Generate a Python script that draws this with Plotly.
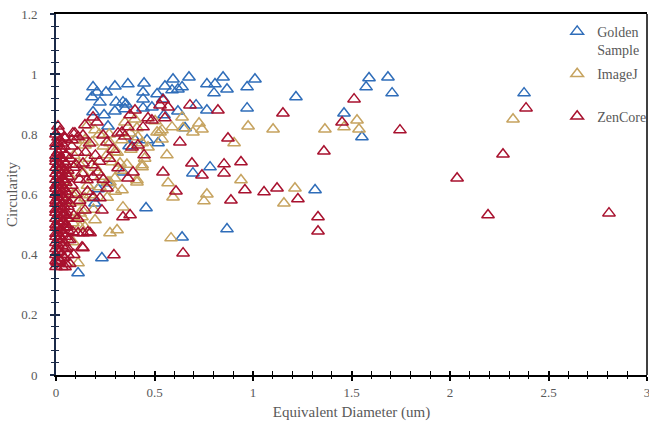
import plotly.graph_objects as go

# Golden Sample: equivalent diameter (um) and circularity
golden_x = [2.376, 1.218, 1.589, 1.574, 1.685, 1.706, 1.462, 1.553, 1.315,
            1.010, 0.970, 0.970, 0.868, 0.848, 0.807, 0.766, 0.802, 0.675,
            0.594, 0.553, 0.589, 0.619, 0.640, 0.513, 0.543, 0.711, 0.766,
            0.619, 0.487, 0.548, 0.655, 0.518, 0.782, 0.695, 0.868, 0.640,
            0.457, 0.233, 0.112, 0.188, 0.183, 0.208, 0.254, 0.299, 0.223,
            0.365, 0.447, 0.442, 0.305, 0.340, 0.355, 0.442, 0.299, 0.350,
            0.188, 0.244, 0.442, 0.264, 0.401, 0.371, 0.462, 0.213, 0.188,
            0.198, 0.340, 0.259]
golden_y = [0.937, 0.924, 0.987, 0.957, 0.990, 0.937, 0.870, 0.791, 0.615,
            0.983, 0.957, 0.887, 0.950, 0.990, 0.967, 0.967, 0.937, 0.990,
            0.983, 0.960, 0.947, 0.950, 0.957, 0.934, 0.917, 0.897, 0.880,
            0.877, 0.890, 0.864, 0.821, 0.771, 0.691, 0.671, 0.485, 0.458,
            0.555, 0.389, 0.339, 0.957, 0.924, 0.940, 0.940, 0.960, 0.907,
            0.967, 0.970, 0.940, 0.907, 0.907, 0.900, 0.917, 0.877, 0.884,
            0.874, 0.864, 0.887, 0.827, 0.781, 0.761, 0.781, 0.618, 0.588,
            0.571, 0.674, 0.638]

# ImageJ
imagej_x = [2.320, 1.365, 1.528, 1.462, 1.538, 1.213, 1.157, 0.975, 1.102,
            0.904, 0.939, 0.766, 0.751, 0.594, 0.584, 0.726, 0.741, 0.695,
            0.640, 0.645, 0.589, 0.563, 0.538, 0.503, 0.528,
            0.147, 0.198, 0.183, 0.259, 0.299, 0.284, 0.325, 0.411, 0.437,
            0.335, 0.264, 0.223, 0.173, 0.132, 0.198, 0.274, 0.310, 0.107,
            0.112, 0.122, 0.086, 0.147, 0.112, 0.569, 0.411, 0.437,
            0.162, 0.147, 0.274, 0.335, 0.376, 0.416, 0.467, 0.513, 0.538,
            0.437, 0.411, 0.299, 0.274, 0.340, 0.132, 0.122, 0.086, 0.147,
            0.086, 0.05, 0.07, 0.09, 0.12, 0.14, 0.17, 0.20, 0.24, 0.27,
            0.31, 0.36, 0.38, 0.22, 0.06, 0.10, 0.04, 0.03, 0.08, 0.16,
            0.30, 0.33, 0.45, 0.40, 0.35, 0.26, 0.19, 0.23]
imagej_y = [0.850, 0.817, 0.847, 0.824, 0.817, 0.621, 0.571, 0.827, 0.817,
            0.771, 0.648, 0.601, 0.578, 0.591, 0.455, 0.837, 0.817, 0.807,
            0.857, 0.821, 0.824, 0.731, 0.814, 0.844, 0.807,
            0.764, 0.814, 0.774, 0.731, 0.741, 0.708, 0.704, 0.648, 0.698,
            0.615, 0.641, 0.625, 0.598, 0.548, 0.515, 0.472, 0.482, 0.605,
            0.575, 0.538, 0.505, 0.492, 0.372, 0.638, 0.821, 0.771,
            0.831, 0.781, 0.771, 0.781, 0.804, 0.791, 0.757, 0.807, 0.784,
            0.691, 0.641, 0.654, 0.641, 0.558, 0.525, 0.492, 0.442, 0.588,
            0.598, 0.70, 0.66, 0.73, 0.70, 0.67, 0.72, 0.69, 0.76, 0.80,
            0.74, 0.70, 0.75, 0.80, 0.62, 0.78, 0.57, 0.68, 0.52, 0.63,
            0.61, 0.68, 0.72, 0.85, 0.84, 0.59, 0.55, 0.66]

# ZenCore
zencore_x = [0.010, 0.046, 0.086, 0.112, 0.081, 0.096, 0.137, 0.147, 0.188,
             0.208, 0.239, 0.259, 0.315, 0.335, 0.350, 0.365, 0.376, 0.401,
             0.416, 0.386, 0.442, 0.467, 0.447, 0.487, 0.553, 0.528, 0.569,
             0.543, 0.680, 0.822, 1.152, 1.513, 1.452, 1.746, 2.386, 0.629,
             0.873, 1.360, 2.269, 0.690, 0.939, 0.853, 0.853, 0.741, 0.543,
             0.959, 1.056, 1.122, 0.609, 0.888, 1.228, 2.036, 2.193, 2.807,
             1.330, 1.330, 0.645, 0.294,
             0.391, 0.365, 0.315, 0.340, 0.233, 0.162, 0.132, 0.137, 0.086,
             0.183, 0.213, 0.137, 0.157, 0.188, 0.132, 0.259, 0.223, 0.376,
             0.147, 0.112, 0.173, 0.056, 0.137, 0.046, 0.005, 0.056, 0.046,
             0.07, 0.09, 0.08, 0.10, 0.07, 0.11, 0.09, 0.12, 0.06, 0.08,
             0.10, 0.07, 0.09, 0.12, 0.15, 0.17, 0.20, 0.22, 0.27, 0.29,
             0.24, 0.11, 0.16, 0.19, 0.07,
             # narrow column of small particles
             0.00, 0.03, 0.01, 0.05, 0.02, 0.00, 0.04, 0.01, 0.00, 0.03,
             0.06, 0.02, 0.01, 0.05, 0.00, 0.01, 0.03, 0.00, 0.04, 0.02,
             0.03, 0.01, 0.06, 0.00, 0.02, 0.05, 0.01, 0.04, 0.00, 0.03,
             0.02, 0.06, 0.00, 0.01, 0.04, 0.02, 0.05, 0.00, 0.01, 0.03,
             0.04, 0.00, 0.02, 0.06, 0.04, 0.01, 0.03, 0.00, 0.02, 0.05,
             0.01, 0.03, 0.00, 0.02, 0.04, 0.06, 0.00, 0.01, 0.03, 0.05,
             0.02, 0.00, 0.01, 0.03, 0.04, 0.00, 0.02, 0.06, 0.03, 0.01,
             0.05, 0.00, 0.02, 0.04, 0.01, 0.03, 0.00, 0.02, 0.05, 0.01,
             0.00, 0.04, 0.03, 0.01, 0.02, 0.06, 0.00, 0.03, 0.05, 0.02,
             0.01, 0.04, 0.00, 0.03, 0.01, 0.05, 0.02, 0.00, 0.04, 0.00,
             0.05, 0.02, 0.03, 0.01, 0.00, 0.05, 0.01, 0.03, 0.02, 0.00,
             0.04, 0.01, 0.00, 0.03, 0.02, 0.01, 0.04, 0.00, 0.02]
zencore_y = [0.827, 0.787, 0.804, 0.791, 0.781, 0.804, 0.797, 0.831, 0.857,
             0.840, 0.797, 0.774, 0.804, 0.807, 0.794, 0.824, 0.864, 0.880,
             0.764, 0.757, 0.824, 0.854, 0.731, 0.847, 0.854, 0.897, 0.890,
             0.914, 0.897, 0.880, 0.870, 0.917, 0.840, 0.814, 0.887, 0.774,
             0.787, 0.744, 0.734, 0.704, 0.708, 0.701, 0.671, 0.664, 0.674,
             0.615, 0.608, 0.621, 0.611, 0.581, 0.585, 0.654, 0.532, 0.538,
             0.525, 0.478, 0.405, 0.399,
             0.674, 0.654, 0.688, 0.525, 0.548, 0.475, 0.425, 0.472, 0.475,
             0.698, 0.674, 0.704, 0.648, 0.658, 0.671, 0.621, 0.588, 0.532,
             0.548, 0.472, 0.472, 0.425, 0.422, 0.359, 0.375, 0.492, 0.532,
             0.72, 0.69, 0.63, 0.60, 0.57, 0.74, 0.53, 0.65, 0.68, 0.76,
             0.70, 0.45, 0.40, 0.58, 0.74, 0.77, 0.73, 0.71, 0.72, 0.75,
             0.65, 0.52, 0.61, 0.59, 0.37,
             0.36, 0.36, 0.37, 0.37, 0.38, 0.38, 0.39, 0.39, 0.40, 0.40,
             0.40, 0.41, 0.41, 0.42, 0.42, 0.43, 0.43, 0.44, 0.44, 0.44,
             0.45, 0.45, 0.45, 0.46, 0.46, 0.46, 0.47, 0.47, 0.47, 0.48,
             0.48, 0.48, 0.49, 0.49, 0.49, 0.50, 0.50, 0.50, 0.51, 0.51,
             0.51, 0.52, 0.52, 0.52, 0.53, 0.53, 0.53, 0.54, 0.54, 0.54,
             0.55, 0.55, 0.55, 0.56, 0.56, 0.56, 0.57, 0.57, 0.57, 0.58,
             0.58, 0.58, 0.59, 0.59, 0.59, 0.60, 0.60, 0.60, 0.61, 0.61,
             0.61, 0.62, 0.62, 0.62, 0.63, 0.63, 0.63, 0.64, 0.64, 0.64,
             0.65, 0.65, 0.65, 0.66, 0.66, 0.66, 0.67, 0.67, 0.67, 0.68,
             0.68, 0.68, 0.69, 0.69, 0.70, 0.70, 0.70, 0.71, 0.71, 0.72,
             0.73, 0.72, 0.72, 0.74, 0.73, 0.73, 0.74, 0.75, 0.75, 0.76,
             0.76, 0.77, 0.77, 0.77, 0.78, 0.79, 0.79, 0.80, 0.81]

series = [
    ("Golden<br>Sample", golden_x, golden_y, "#2F6DB9"),
    ("ImageJ<br> ", imagej_x, imagej_y, "#C6A35F"),
    ("ZenCore", zencore_x, zencore_y, "#A8112E"),
]

FONT = "'Liberation Serif', 'Times New Roman', Times, 'DejaVu Serif', serif"
GRAY = "#595959"

fig = go.Figure()
for i, (name, xs, ys, color) in enumerate(series):
    fig.add_trace(go.Scatter(
        x=xs, y=ys, mode="markers", name=name, legendgroup=str(i),
        cliponaxis=False,
        marker=dict(symbol="triangle-up-open", size=11,
                    line=dict(color=color, width=1.5), color=color),
    ))

# empty trace carrying the inner half of the crossing tick marks
fig.add_trace(go.Scatter(x=[], y=[], xaxis="x2", yaxis="y2",
                         showlegend=False, hoverinfo="skip"))

fig.update_layout(
    width=649, height=424,
    margin=dict(l=56, r=2, t=14, b=49, autoexpand=False),
    paper_bgcolor="white", plot_bgcolor="white",
    font=dict(family=FONT, color=GRAY, size=13),
    showlegend=True,
    legend=dict(x=0.848, y=0.995, xanchor="left", yanchor="top",
                bgcolor="rgba(0,0,0,0)", tracegroupgap=3, valign="top",
                itemwidth=30,
                font=dict(family=FONT, size=14, color=GRAY)),
    xaxis=dict(range=[0, 3], dtick=0.5, showgrid=False, zeroline=False,
               showline=True, linecolor="#000000", linewidth=2, mirror=True,
               automargin=False,
               ticks="outside", ticklen=4, tickwidth=1.5, tickcolor="#000000",
               minor=dict(ticks="outside", dtick=0.1, ticklen=2,
                          tickwidth=1.2, tickcolor="#000000"),
               ticklabeloverflow="allow",
               tickfont=dict(family=FONT, size=13, color=GRAY),
               title=dict(text="Equivalent Diameter (um)", standoff=8,
                          font=dict(family=FONT, size=15, color=GRAY))),
    yaxis=dict(range=[0, 1.2], dtick=0.2, showgrid=False, zeroline=False,
               showline=True, linecolor="#1B2A48", linewidth=2,
               automargin=False,
               ticks="outside", ticklen=4, tickwidth=1.5, tickcolor="#1B2A48",
               minor=dict(ticks="outside", dtick=0.04, ticklen=3,
                          tickwidth=1.2, tickcolor="#1B2A48"),
               ticklabelstandoff=10,
               tickfont=dict(family=FONT, size=13, color=GRAY),
               title=dict(text="Circularity", standoff=0,
                          font=dict(family=FONT, size=15, color=GRAY))),
    xaxis2=dict(overlaying="x", range=[0, 3], dtick=0.5, showgrid=False,
                zeroline=False, showline=False, showticklabels=False,
                ticks="inside", ticklen=4, tickwidth=1.5, tickcolor="#000000",
                minor=dict(ticks="inside", dtick=0.1, ticklen=4,
                           tickwidth=1.2, tickcolor="#000000")),
    yaxis2=dict(overlaying="y", range=[0, 1.2], dtick=0.2, showgrid=False,
                zeroline=False, showline=False, showticklabels=False,
                ticks="inside", ticklen=4, tickwidth=1.5, tickcolor="#1B2A48",
                minor=dict(ticks="inside", dtick=0.04, ticklen=3,
                           tickwidth=1.2, tickcolor="#1B2A48")),
    shapes=[dict(type="line", xref="paper", yref="paper", x0=1, x1=1,
                 y0=0, y1=1, line=dict(color="#000000", width=1.5))],
)

fig.write_html("out.html")
